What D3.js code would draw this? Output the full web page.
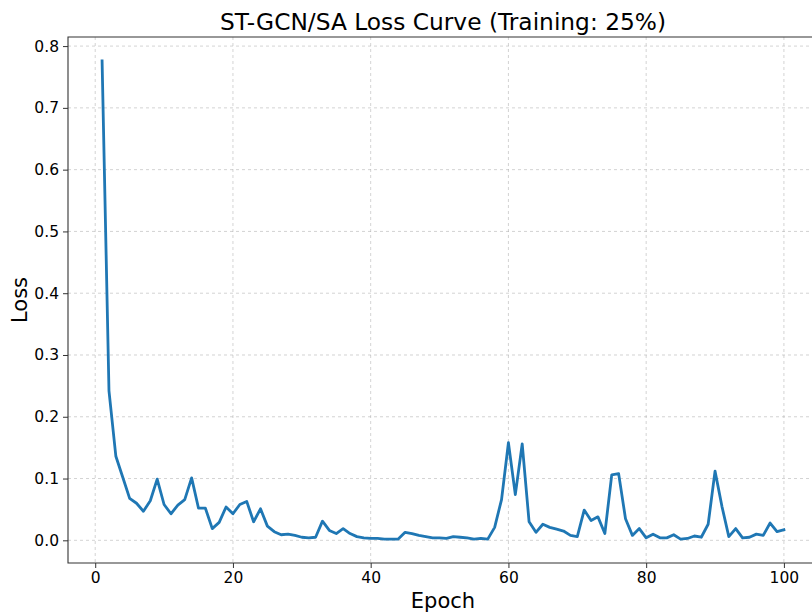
<!DOCTYPE html>
<html>
<head>
<meta charset="utf-8">
<script src="https://cdn.jsdelivr.net/npm/d3@7"></script>
<style>
  body { margin: 0; background: #fff; }
  svg text { font-family: "DejaVu Sans", sans-serif; fill: #000; }
</style>
</head>
<body>
<div id="chart"></div>
<script>
// loss per epoch
var epochs = d3.range(1, 101);
var loss = [
  0.776, 0.242, 0.136, 0.102, 0.068, 0.060, 0.047, 0.064, 0.099, 0.058,
  0.043, 0.057, 0.066, 0.101, 0.052, 0.052, 0.019, 0.029, 0.054, 0.043,
  0.058, 0.063, 0.030, 0.051, 0.023, 0.014, 0.009, 0.010, 0.008, 0.005,
  0.004, 0.005, 0.031, 0.016, 0.011, 0.019, 0.011, 0.006, 0.004, 0.003,
  0.003, 0.002, 0.002, 0.002, 0.013, 0.011, 0.008, 0.006, 0.004, 0.004,
  0.003, 0.006, 0.005, 0.004, 0.002, 0.003, 0.002, 0.021, 0.066, 0.158,
  0.074, 0.156, 0.030, 0.013, 0.026, 0.021, 0.018, 0.015, 0.008, 0.006,
  0.049, 0.032, 0.038, 0.011, 0.106, 0.108, 0.035, 0.008, 0.019, 0.004,
  0.010, 0.004, 0.004, 0.009, 0.002, 0.003, 0.007, 0.005, 0.026, 0.112,
  0.055, 0.006, 0.019, 0.004, 0.005, 0.010, 0.008, 0.028, 0.014, 0.017
];
var xTicks = [0, 20, 40, 60, 80, 100];
var yTicks = [0.0, 0.1, 0.2, 0.3, 0.4, 0.5, 0.6, 0.7, 0.8];

var svgWidth = 812;
var svgHeight = 616;

// axes box (right edge runs past the window, as in the reference)
var margin = { top: 37, left: 68, bottom: 53 };
var plotRight = 818;
var height = svgHeight - margin.top - margin.bottom;

var svg = d3.select("#chart")
  .append("svg")
  .attr("width", svgWidth)
  .attr("height", svgHeight);

// matplotlib style 5% padding on both axes
var xPad = (d3.max(epochs) - d3.min(epochs)) * 0.05;
var yPad = (d3.max(loss) - d3.min(loss)) * 0.05;

var x = d3.scaleLinear()
  .domain([d3.min(epochs) - xPad, d3.max(epochs) + xPad])
  .range([margin.left, plotRight]);

var y = d3.scaleLinear()
  .domain([d3.min(loss) - yPad, d3.max(loss) + yPad])
  .range([margin.top + height, margin.top]);

// grid
var grid = svg.append("g")
  .attr("stroke", "#b0b0b0")
  .attr("stroke-opacity", 0.7)
  .attr("stroke-width", 0.8)
  .attr("stroke-dasharray", "3,3");

grid.selectAll(".vgrid")
  .data(xTicks)
  .enter()
  .append("line")
  .attr("x1", d => x(d))
  .attr("x2", d => x(d))
  .attr("y1", margin.top)
  .attr("y2", margin.top + height);

grid.selectAll(".hgrid")
  .data(yTicks)
  .enter()
  .append("line")
  .attr("x1", margin.left)
  .attr("x2", plotRight)
  .attr("y1", d => y(d))
  .attr("y2", d => y(d));

// loss line
var line = d3.line()
  .x((d, i) => x(epochs[i]))
  .y(d => y(d));

svg.append("path")
  .datum(loss)
  .attr("d", line)
  .attr("fill", "none")
  .attr("stroke", "#1f77b4")
  .attr("stroke-width", 2.8)
  .attr("stroke-linejoin", "round")
  .attr("stroke-linecap", "square");

// axes
var bottomAxis = d3.axisBottom(x)
  .tickValues(xTicks)
  .tickSize(5)
  .tickPadding(4)
  .tickFormat(d3.format("d"));

var leftAxis = d3.axisLeft(y)
  .tickValues(yTicks)
  .tickSize(5)
  .tickPadding(4)
  .tickFormat(d3.format(".1f"));

var gx = svg.append("g")
  .attr("transform", `translate(0, ${margin.top + height})`)
  .call(bottomAxis);

var gy = svg.append("g")
  .attr("transform", `translate(${margin.left}, 0)`)
  .call(leftAxis);

[gx, gy].forEach(function(g) {
  g.select(".domain").remove();
  g.selectAll(".tick line").attr("stroke", "#333").attr("stroke-width", 1);
  g.selectAll(".tick text")
    .attr("font-size", "15.5px")
    .style("font-family", "'DejaVu Sans', sans-serif");
});

// spines: left, top, bottom
var spines = svg.append("g")
  .attr("stroke", "#333")
  .attr("stroke-width", 1.1)
  .attr("fill", "none");

spines.append("path")
  .attr("d", `M${plotRight},${margin.top}H${margin.left}V${margin.top + height}H${plotRight}`);

// title and labels
svg.append("text")
  .attr("x", (margin.left + plotRight) / 2)
  .attr("y", 30)
  .attr("text-anchor", "middle")
  .attr("font-size", "23.3px")
  .text("ST-GCN/SA Loss Curve (Training: 25%)");

svg.append("text")
  .attr("x", (margin.left + plotRight) / 2)
  .attr("y", 608)
  .attr("text-anchor", "middle")
  .attr("font-size", "21px")
  .text("Epoch");

svg.append("text")
  .attr("transform", `translate(27, ${margin.top + height / 2}) rotate(-90)`)
  .attr("text-anchor", "middle")
  .attr("font-size", "21px")
  .text("Loss");
</script>
</body>
</html>
